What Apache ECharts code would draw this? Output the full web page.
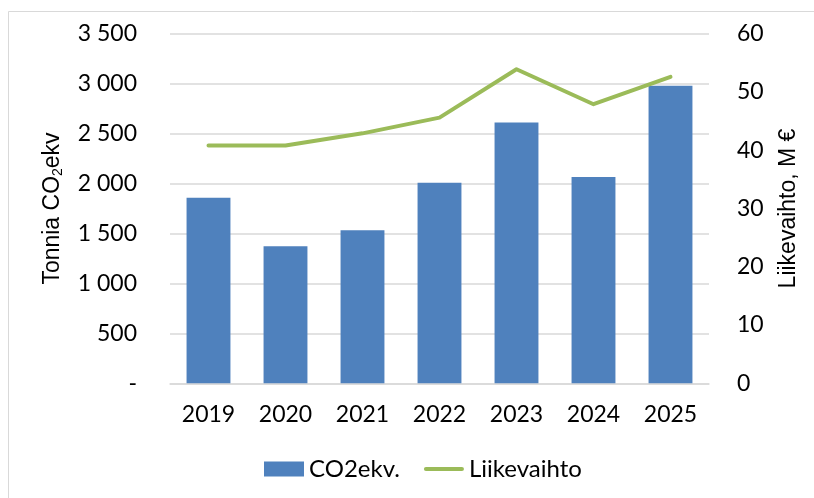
<!DOCTYPE html>
<html>
<head>
<meta charset="utf-8">
<script src="https://cdn.jsdelivr.net/npm/echarts@6/dist/echarts.min.js"></script>
<style>
html,body{margin:0;padding:0;background:#fff;}
#c{width:814px;height:498px;}
</style>
</head>
<body>
<div id="c"></div>
<script>
const categories = ['2019','2020','2021','2022','2023','2024','2025'];
const co2Values = [1857, 1372, 1532, 2008, 2610, 2066, 2979];
const revenueValues = [40.8, 40.8, 42.9, 45.6, 53.9, 47.9, 52.6];
const leftTicks = {min: 0, max: 3500, interval: 500};
const rightTicks = {min: 0, max: 60, interval: 10};

const FONT = 'Lato, "Open Sans", sans-serif';
const chart = echarts.init(document.getElementById('c'), null, {renderer: 'canvas'});

function fmtThousands(v) {
  if (v === 0) return '-';
  const s = String(Math.round(v));
  return s.replace(/\B(?=(\d{3})+(?!\d))/g, ' ');
}

chart.setOption({
  animation: false,
  backgroundColor: '#ffffff',
  graphic: [{
    type: 'rect',
    left: 6, top: 9,
    shape: {width: 820, height: 500},
    style: {fill: 'none', stroke: '#d9d9d9', lineWidth: 1},
    silent: true
  }],
  grid: {left: 170, right: 105, top: 33.7, bottom: 114.7},
  legend: {
    bottom: 12,
    left: 259,
    itemGap: 24,
    itemWidth: 40,
    itemHeight: 15,
    textStyle: {fontFamily: FONT, fontSize: 24, color: '#000'},
    data: [
      {name: 'CO2ekv.', icon: 'rect'},
      {name: 'Liikevaihto', icon: 'path://M2,0 L38,0 A2,2 0 0 1 38,4 L2,4 A2,2 0 0 1 2,0 Z'}
    ]
  },
  xAxis: {
    type: 'category',
    data: categories,
    axisTick: {show: false},
    axisLine: {show: true, lineStyle: {color: '#d9d9d9', width: 1.5}},
    axisLabel: {fontFamily: FONT, fontSize: 23, color: '#000', margin: 20}
  },
  yAxis: [{
    type: 'value',
    min: leftTicks.min, max: leftTicks.max, interval: leftTicks.interval,
    name: 'Tonnia CO{sub|2}ekv',
    nameLocation: 'middle',
    nameGap: 105,
    nameRotate: 90,
    nameTextStyle: {
      fontFamily: '"Liberation Sans", Arial, sans-serif', fontSize: 23, color: '#000',
      rich: {sub: {fontFamily: '"Liberation Sans", Arial, sans-serif', fontSize: 14, color: '#000', verticalAlign: 'bottom', padding: [10, 0, 0, 0]}}
    },
    axisLine: {show: false},
    axisTick: {show: false},
    splitLine: {lineStyle: {color: '#d9d9d9', width: 1.5}},
    axisLabel: {fontFamily: FONT, fontSize: 23, color: '#000', margin: 33, formatter: fmtThousands}
  }, {
    type: 'value',
    min: rightTicks.min, max: rightTicks.max, interval: rightTicks.interval,
    name: 'Liikevaihto, M €',
    nameLocation: 'middle',
    nameGap: 68,
    nameRotate: 90,
    nameTextStyle: {fontFamily: '"Liberation Sans", Arial, sans-serif', fontSize: 23, color: '#000'},
    axisLine: {show: false},
    axisTick: {show: false},
    splitLine: {show: false},
    axisLabel: {fontFamily: FONT, fontSize: 23, color: '#000', margin: 28}
  }],
  series: [{
    name: 'CO2ekv.',
    type: 'bar',
    data: co2Values,
    yAxisIndex: 0,
    barWidth: '57%',
    itemStyle: {color: '#4f81bd'}
  }, {
    name: 'Liikevaihto',
    type: 'line',
    data: revenueValues,
    yAxisIndex: 1,
    symbol: 'none',
    lineStyle: {color: '#9bbb59', width: 4, cap: 'round', join: 'round'},
    itemStyle: {color: '#9bbb59'}
  }]
});
</script>
</body>
</html>
